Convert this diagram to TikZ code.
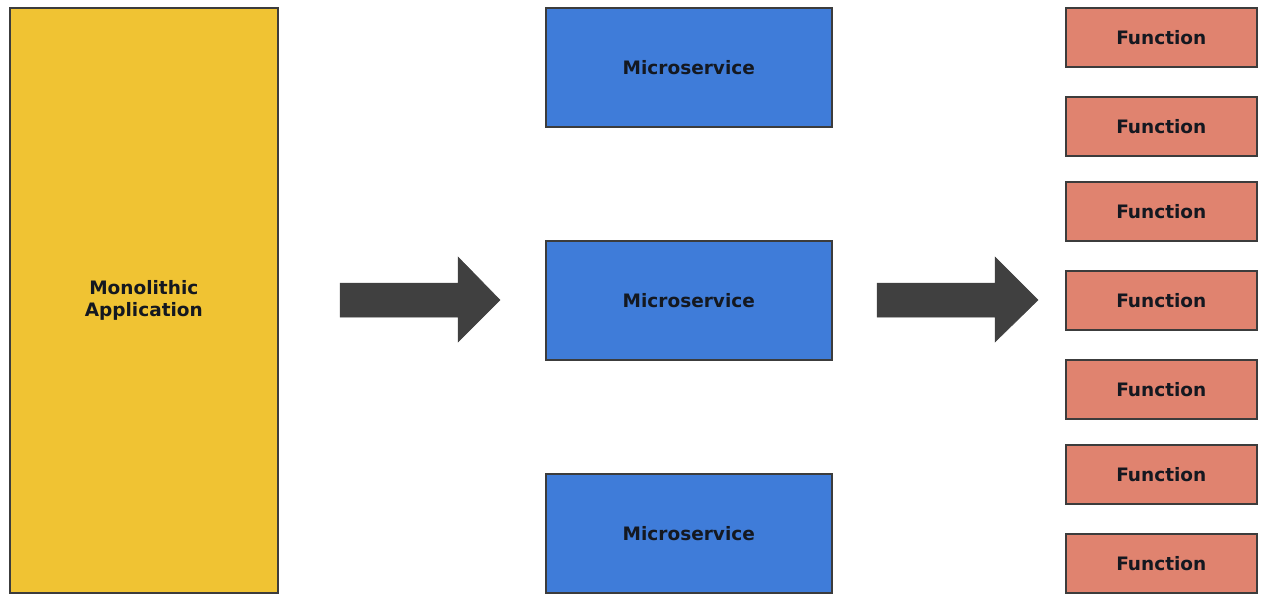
\documentclass[tikz,border=0pt]{standalone}
\usepackage{fontspec}
\setmainfont{DejaVu Sans}
\begin{document}
\begin{tikzpicture}[x=1pt,y=-1pt,
  box/.style={draw=boxline,line width=1.6pt,inner sep=0pt,anchor=north west,
    font=\fontsize{18.5}{22}\selectfont\bfseries,text=textdark,align=center},
  mono/.style={box,fill=monoyellow},
  micro/.style={box,fill=microblue},
  func/.style={box,fill=funcsalmon},
  bigarrow/.style={fill=arrowgray,draw=arrowgray,line width=0.5pt}]
\definecolor{boxline}{HTML}{3C3C3C}
\definecolor{textdark}{HTML}{141820}
\definecolor{monoyellow}{HTML}{F0C333}
\definecolor{microblue}{HTML}{3F7CD9}
\definecolor{funcsalmon}{HTML}{E0836F}
\definecolor{arrowgray}{HTML}{404040}
\useasboundingbox (0,0) rectangle (1262,594);
\node[mono,minimum width=268pt,minimum height=585pt] (mono) at (9,7) {Monolithic\\Application};
\node[micro,minimum width=286pt,minimum height=119pt] (ms1) at (545,7) {Microservice};
\node[micro,minimum width=286pt,minimum height=119pt] (ms2) at (545,240) {Microservice};
\node[micro,minimum width=286pt,minimum height=119pt] (ms3) at (545,473) {Microservice};
\foreach \y/\n in {7/1,96/2,181/3,270/4,359/5,444/6,533/7}
  \node[func,minimum width=191pt,minimum height=59pt] (f\n) at (1065,\y) {Function};
\fill[bigarrow] (340,283) -- (458,283) -- (458,257) -- (500,300) -- (458,342) -- (458,317) -- (340,317) -- cycle;
\fill[bigarrow] (877,283) -- (995,283) -- (995,257) -- (1038,300) -- (995,342) -- (995,317) -- (877,317) -- cycle;
\end{tikzpicture}
\end{document}
